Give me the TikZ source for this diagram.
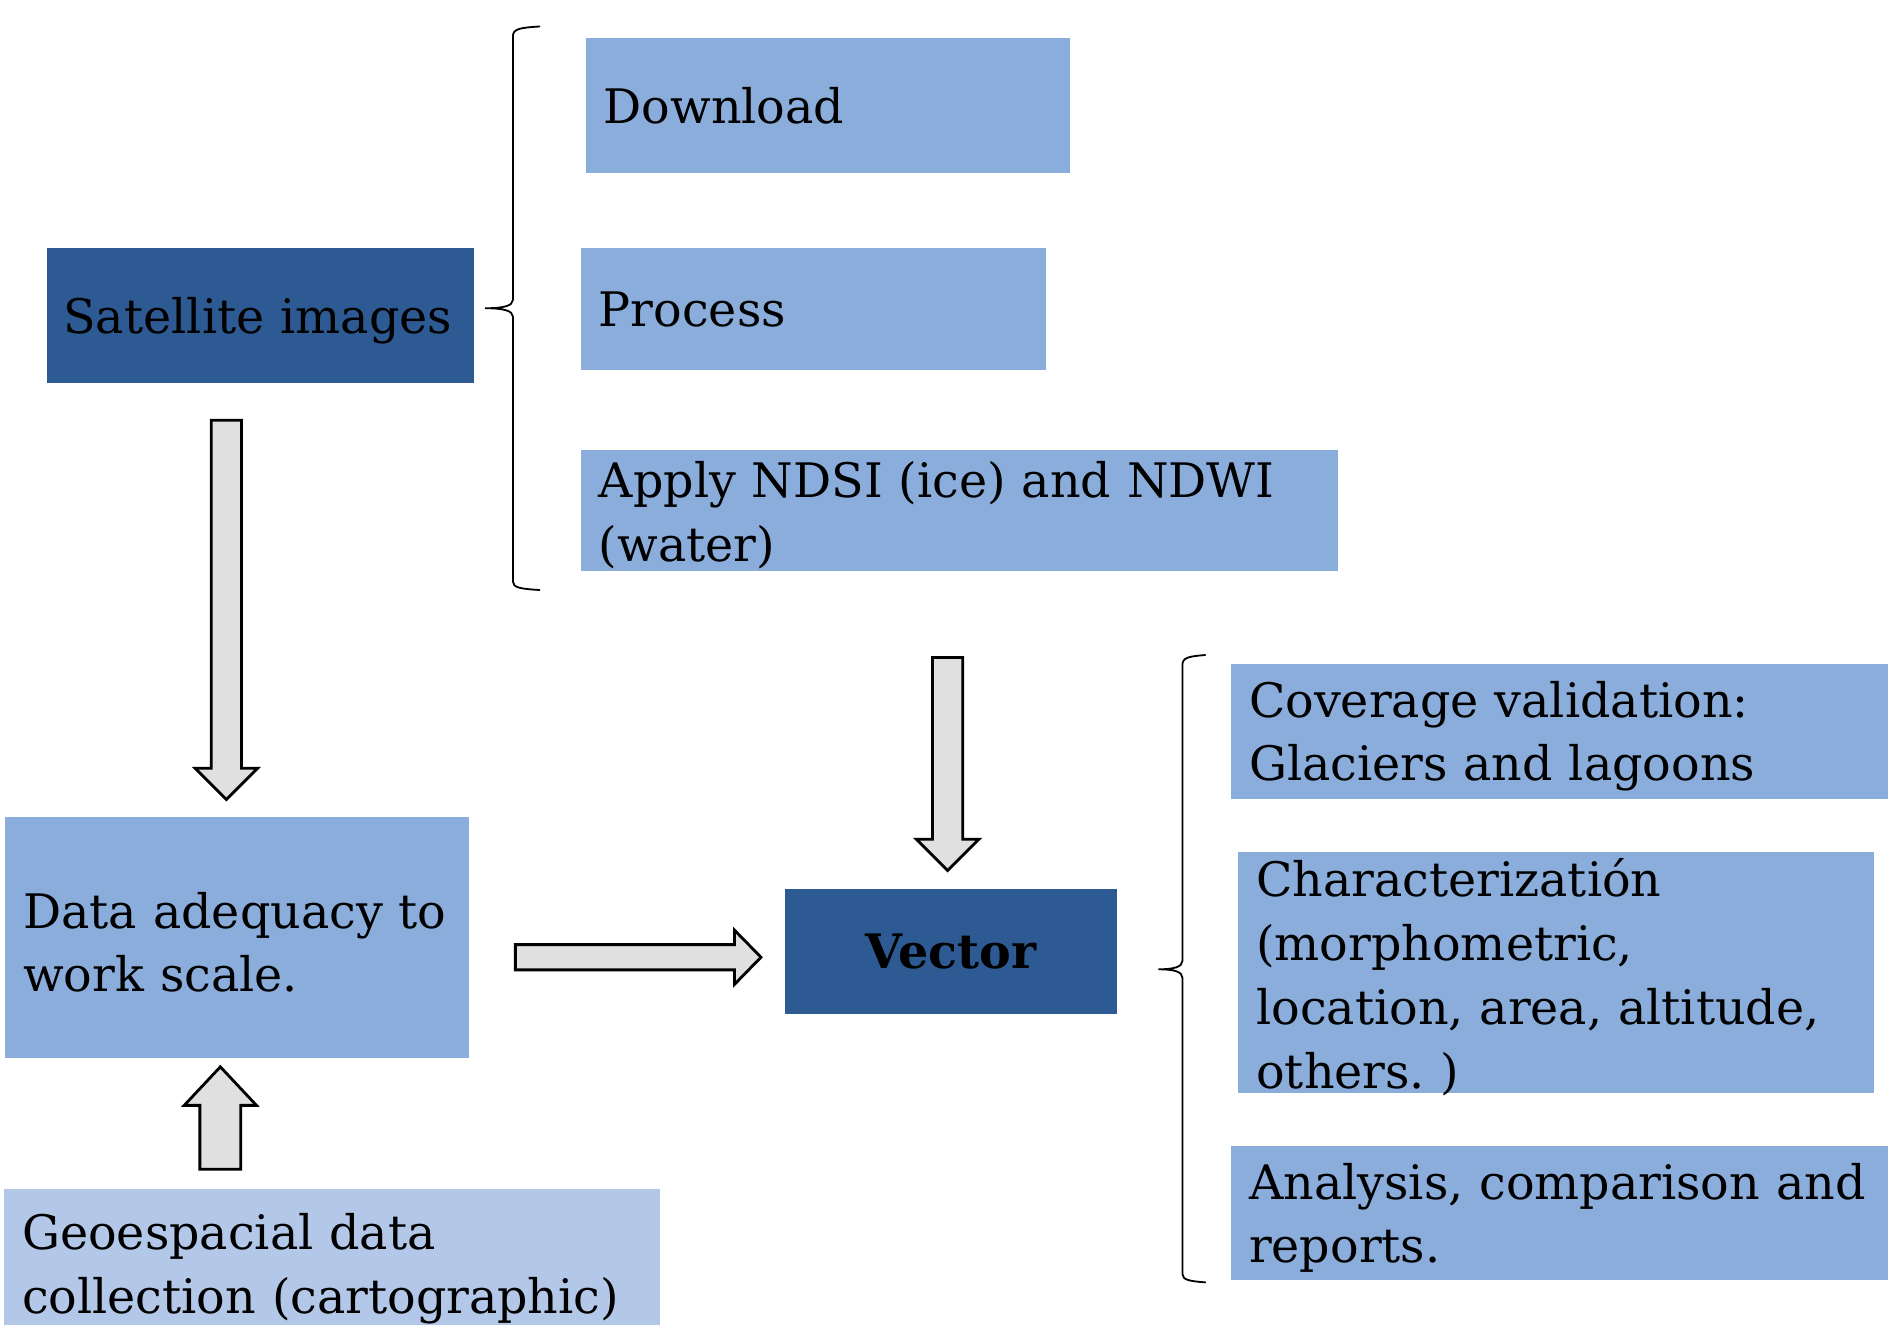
\documentclass[tikz,border=0pt]{standalone}
\usepackage{fontspec}
\setmainfont{DejaVu Serif}
\usetikzlibrary{calc}

\definecolor{darkblue}{HTML}{2E5A93}
\definecolor{midblue}{HTML}{8AADDB}
\definecolor{paleblue}{HTML}{B3C8E8}
\definecolor{arrowgray}{HTML}{E0E0E0}

\tikzset{
  box/.style={rectangle, fill=#1, anchor=north west, inner xsep=9pt, inner ysep=0pt,
    align=left, font=\fontsize{23.7}{31.8}\selectfont\frenchspacing,
    execute at end node={\par\vspace*{-5pt}}},
  % shaft half width / head half width / head length
  fat arrow/.style args={#1/#2/#3}{draw, fill=arrowgray, line width=1.4pt, line join=miter,
    to path={
      let \p1=(\tikztostart), \p2=(\tikztotarget), \n1={atan2(\y2-\y1,\x2-\x1)} in
      ($(\p1)+(\n1+90:#1)$) -- ($(\p2)+(\n1:-#3)+(\n1+90:#1)$)
      -- ($(\p2)+(\n1:-#3)+(\n1+90:#2)$) -- (\p2)
      -- ($(\p2)+(\n1:-#3)+(\n1-90:#2)$) -- ($(\p2)+(\n1:-#3)+(\n1-90:#1)$)
      -- ($(\p1)+(\n1-90:#1)$) -- cycle}},
  bracket/.style={line width=0.9pt, line cap=round},
}

\begin{document}
\begin{tikzpicture}[x=0.6pt, y=-0.6pt]
\useasboundingbox (0,0) rectangle (1568,1100);

% satellite branch
\node[box=darkblue, inner xsep=8pt, text width=196.4pt, minimum height=67.2pt] (sat) at (39,206) {Satellite images};
\node[box=midblue, text width=223.2pt, minimum height=67.2pt] (down) at (486,31) {Download};
\node[box=midblue, text width=213.6pt, minimum height=60.6pt] (proc) at (482,206) {Process};
\node[box=midblue, text width=359.4pt, minimum height=60.6pt] (ndsi) at (482,373)
  {Apply NDSI (ice) and NDWI\\(water)};

% left column
\node[box=midblue, text width=213pt, minimum height=120pt] (adeq) at (4,678)
  {Data adequacy to\\work scale.};
\node[box=paleblue, text width=309pt, minimum height=75pt] (geo) at (3,987)
  {Geoespacial data\\collection (cartographic)};

% vector branch
\node[box=darkblue, text width=147pt, minimum height=62.4pt, align=center,
  font=\fontsize{23.7}{31.8}\selectfont\bfseries] (vec) at (652,738) {Vector};
\node[box=midblue, text width=340pt, minimum height=67.2pt] (cov) at (1022,551)
  {Coverage validation:\\Glaciers and lagoons};
\node[box=midblue, text width=298.8pt, minimum height=120pt] (char) at (1028,707)
  {Characterizatión\\(morphometric,\\location, area, altitude,\\others. )};
\node[box=midblue, text width=340pt, minimum height=67.2pt] (ana) at (1022,951)
  {Analysis, comparison and\\reports.};

% braces
\coordinate (b1 top) at (448,22);
\coordinate (b1 tip) at (403,256);
\coordinate (b1 bot) at (448,490);
\coordinate (b2 top) at (1001,544);
\coordinate (b2 tip) at (962,805);
\coordinate (b2 bot) at (1001,1065);

\draw[bracket] (b1 top) .. controls (432,23) and (426,24) .. (426,30)
  -- (426,249) .. controls (426,254) and (418,256) .. (b1 tip)
  .. controls (418,256) and (426,258) .. (426,263)
  -- (426,483) .. controls (426,488) and (432,489) .. (b1 bot);
\draw[bracket] (b2 top) .. controls (988,545) and (982,546) .. (982,552)
  -- (982,798) .. controls (982,803) and (975,805) .. (b2 tip)
  .. controls (975,805) and (982,807) .. (982,812)
  -- (982,1058) .. controls (982,1063) and (988,1064) .. (b2 bot);

% block arrows
\coordinate (sat tail) at (188,349);
\coordinate (adeq tip) at (188,664);
\coordinate (geo tail) at (183,971);
\coordinate (geo tip) at (183,886);
\coordinate (adeq tail) at (428,795);
\coordinate (vec tip) at (632,795);
\coordinate (ndsi tail) at (787,546);
\coordinate (ndsi tip) at (787,723);

\draw[fat arrow=7.5pt/15.6pt/15.6pt] (sat tail) to (adeq tip);
\draw[fat arrow=10.2pt/18pt/19.2pt] (geo tail) to (geo tip);
\draw[fat arrow=6.3pt/13.5pt/13.2pt] (adeq tail) to (vec tip);
\draw[fat arrow=7.5pt/15.6pt/15.6pt] (ndsi tail) to (ndsi tip);

\end{tikzpicture}
\end{document}
